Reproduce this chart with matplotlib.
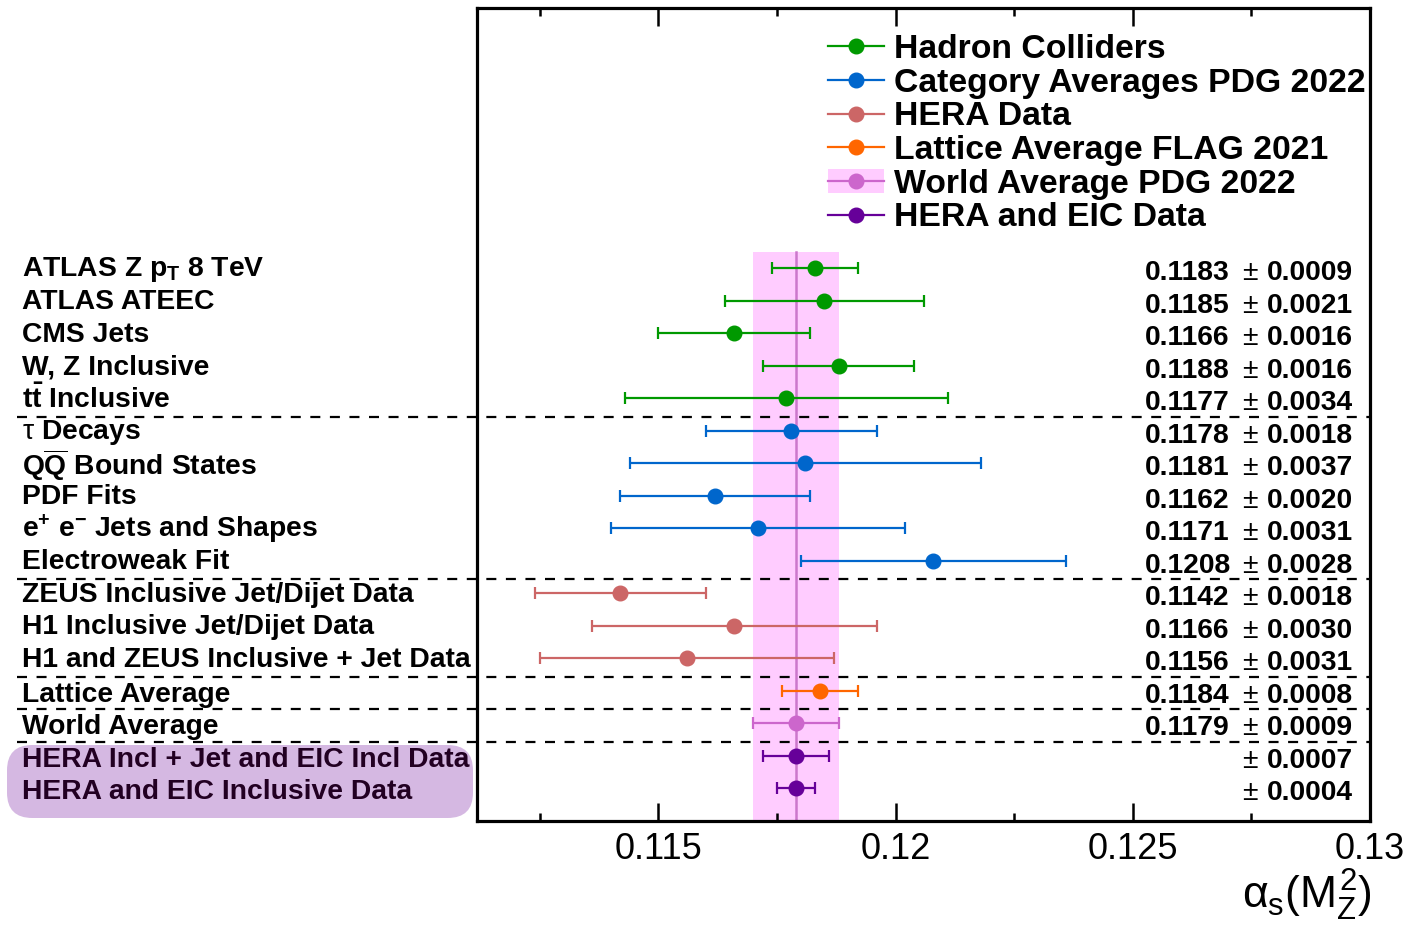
import matplotlib
matplotlib.use("Agg")
import matplotlib.pyplot as plt
from matplotlib.lines import Line2D
from matplotlib.patches import Patch, FancyBboxPatch
from matplotlib.transforms import blended_transform_factory

plt.rcParams['font.family'] = ['Liberation Sans', 'DejaVu Sans']
plt.rcParams['mathtext.fontset'] = 'custom'
plt.rcParams['mathtext.rm'] = 'Liberation Sans'
plt.rcParams['mathtext.it'] = 'Liberation Sans'
plt.rcParams['mathtext.bf'] = 'Liberation Sans:bold'

# measurements, top to bottom
labels = [
    r'ATLAS Z p$_{\mathbf{T}}$ 8 TeV', 'ATLAS ATEEC', 'CMS Jets', 'W, Z Inclusive',
    r't$\mathbf{\bar{t}}$ Inclusive',
    r'$\tau$ Decays', r'Q$\mathbf{\overline{Q}}$ Bound States', 'PDF Fits',
    r'e$^{\mathbf{+}}$ e$^{\mathbf{-}}$ Jets and Shapes', 'Electroweak Fit',
    'ZEUS Inclusive Jet/Dijet Data', 'H1 Inclusive Jet/Dijet Data',
    'H1 and ZEUS Inclusive + Jet Data',
    'Lattice Average',
    'World Average',
    'HERA Incl + Jet and EIC Incl Data', 'HERA and EIC Inclusive Data',
]
values = [0.1183, 0.1185, 0.1166, 0.1188, 0.1177,
          0.1178, 0.1181, 0.1162, 0.1171, 0.1208,
          0.1142, 0.1166, 0.1156,
          0.1184,
          0.1179,
          0.1179, 0.1179]
errors = [0.0009, 0.0021, 0.0016, 0.0016, 0.0034,
          0.0018, 0.0037, 0.0020, 0.0031, 0.0028,
          0.0018, 0.0030, 0.0031,
          0.0008,
          0.0009,
          0.0007, 0.0004]
show_value = [True] * 15 + [False] * 2
group = [0] * 5 + [1] * 5 + [2] * 3 + [3] + [4] + [5] * 2

group_names = ['Hadron Colliders', 'Category Averages PDG 2022', 'HERA Data',
               'Lattice Average FLAG 2021', 'World Average PDG 2022',
               'HERA and EIC Data']
group_colors = ['#009900', '#0066cc', '#cc6666', '#ff6600', '#cc66cc', '#660099']

world_avg = 0.1179
world_err = 0.0009

fig = plt.figure(figsize=(14.09, 9.33), dpi=100)
ax = fig.add_axes([477 / 1409, 1 - 821 / 933, (1370 - 477) / 1409, (821 - 8) / 933])

ypos = list(range(1, len(labels) + 1))

# world average band
ax.fill_betweenx([0.5, 18.5], world_avg - world_err, world_avg + world_err,
                 color='#ffccff', lw=0, zorder=0)
ax.plot([world_avg, world_avg], [0.5, 18.5], color='#cc77cc', lw=1.8, zorder=1)

for y, v, e, g in zip(ypos, values, errors, group):
    ax.errorbar(v, y, xerr=e, fmt='o', color=group_colors[g], ms=10.5,
                elinewidth=1.6, capsize=4, capthick=1.6, zorder=3)

# separators between groups
bounds = [i for i in range(1, len(group)) if group[i] != group[i - 1]]
trans_fd = blended_transform_factory(fig.transFigure, ax.transData)
for b in bounds:
    ax.plot([17 / 1409, 1370 / 1409], [b + 0.57, b + 0.57], transform=trans_fd,
            color='black', lw=1.6, ls=(0, (4.5, 4.3)), clip_on=False, zorder=2)

# highlight box for projections
box = FancyBboxPatch((7 / 1409, 1 - 818 / 933), (473 - 7) / 1409, (818 - 745) / 933,
                     boxstyle='round,pad=0,rounding_size=0.018',
                     transform=fig.transFigure, facecolor='#d5b8e2', edgecolor='none',
                     mutation_aspect=1409 / 933, zorder=0, clip_on=False)
ax.add_artist(box)

for y, lab, g in zip(ypos, labels, group):
    col = '#220022' if g == 5 else 'black'
    dy = 0.12 if g >= 3 else 0.04
    ax.text(22 / 1409, y + dy, lab, transform=trans_fd, ha='left', va='center',
            fontsize=20.3, fontweight='bold', color=col, zorder=4)

for y, v, e, s in zip(ypos, values, errors, show_value):
    if s:
        ax.text(1145 / 1409, y + 0.15, f'{v:.4f}', transform=trans_fd, ha='left',
                va='center', fontsize=20.3, fontweight='bold')
    ax.text(1242 / 1409, y + 0.15, '\u00b1', transform=trans_fd, ha='left',
            va='center', fontsize=20.3)
    ax.text(1353 / 1409, y + 0.15, f'{e:.4f}', transform=trans_fd, ha='right',
            va='center', fontsize=20.3, fontweight='bold')

ax.set_xlim(0.11118, 0.12992)
ax.set_ylim(18.0, -7.0)
ax.set_yticks([])
ax.set_xticks([0.115, 0.12, 0.125, 0.13])
ax.set_xticklabels(['0.115', '0.12', '0.125', '0.13'])
ax.set_xticks([0.1125, 0.1175, 0.1225, 0.1275], minor=True)
ax.tick_params(axis='x', which='major', direction='in', length=13, width=1.8,
               top=True, labelsize=26, pad=8)
ax.tick_params(axis='x', which='minor', direction='in', length=6, width=1.8, top=True)
for sp in ax.spines.values():
    sp.set_linewidth(2.3)

fig.text(1372 / 1409, 1 - 895 / 933, r'$\alpha_{s}(M_{Z}^{2})$', ha='right',
         va='center', fontsize=32)

handles = []
for i, c in enumerate(group_colors):
    ln = Line2D([0], [0], color=c, marker='o', ms=10.5, lw=1.6)
    if i == 4:
        handles.append((Patch(facecolor='#ffccff', edgecolor='none'), ln))
    else:
        handles.append(ln)
leg = ax.legend(handles, group_names, loc='upper left',
                bbox_to_anchor=(828 / 1409, 1 - 34 / 933), bbox_transform=fig.transFigure,
                frameon=False, prop={'size': 24.3, 'weight': 'bold'},
                handlelength=1.65, handletextpad=0.3, labelspacing=0.08,
                borderaxespad=0, borderpad=0)

fig.savefig('out.png', dpi=100)
